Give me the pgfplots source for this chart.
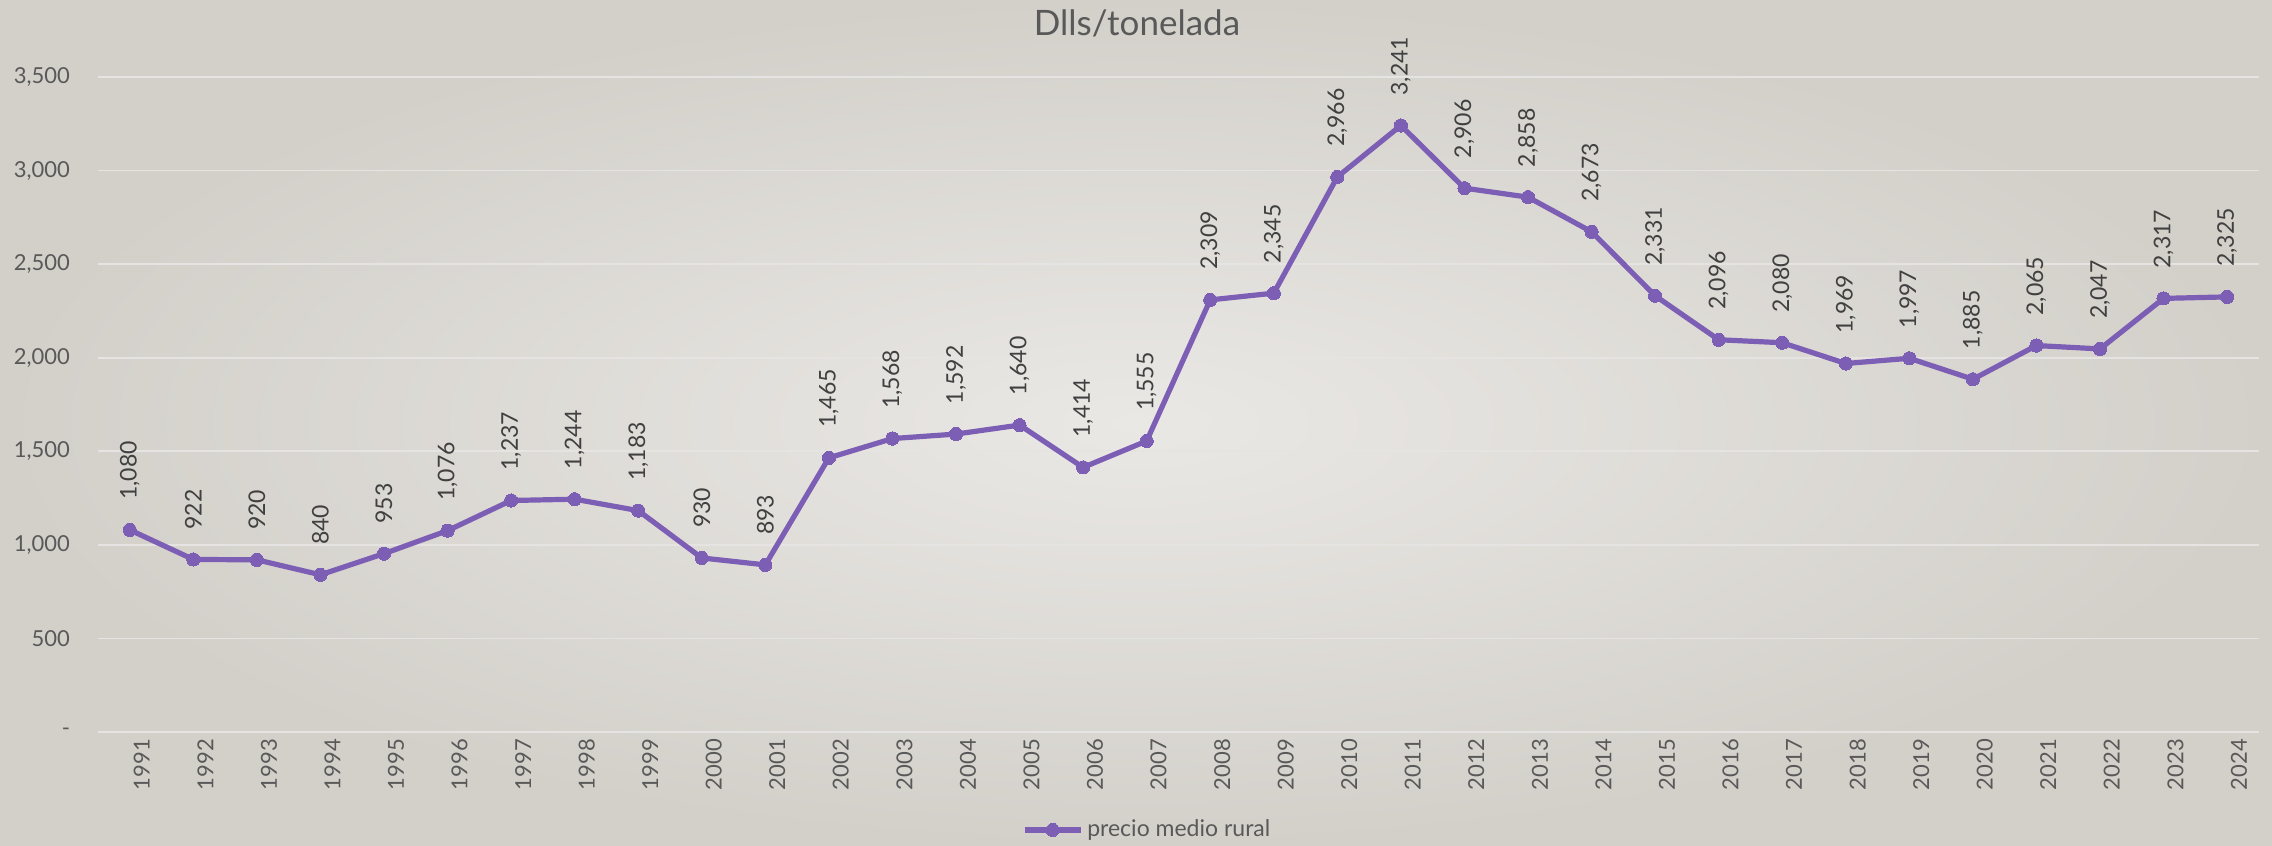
\documentclass[border=0pt]{standalone}
\usepackage{fontspec}
\setmainfont{Lato}
\usepackage{pgfplots}
\pgfplotsset{compat=1.18}
\definecolor{linepurple}{HTML}{7C5FB5}
\definecolor{txt}{HTML}{595959}
\definecolor{lbl}{HTML}{404040}
\definecolor{gridc}{HTML}{E6E4E2}
\definecolor{bgin}{HTML}{EAE8E5}
\definecolor{bgout}{HTML}{D3D0CA}
\begin{document}
\begin{tikzpicture}
\shade[inner color=bgin, outer color=bgout] (-49pt,-57pt) rectangle (1087pt,366pt);
\path[use as bounding box] (-49pt,-57pt) rectangle (1087pt,366pt);
\begin{axis}[
  scale only axis, width=1080.5pt, height=327.5pt,
  xmin=1990.5, xmax=2024.5, ymin=0, ymax=3500,
  xtick={1991,...,2024}, ytick={0,500,...,3500},
  yticklabels={-,500,{1,000},{1,500},{2,000},{2,500},{3,000},{3,500}},
  ymajorgrids, grid style={gridc, line width=0.9pt},
  axis line style={draw=none}, major tick style={draw=none},
  clip=false,
  /pgf/number format/assume math mode=true,
  tick label style={font=\fontsize{11}{13}\selectfont, text=txt},
  xticklabel style={rotate=90, anchor=east, yshift=-6pt, /pgf/number format/1000 sep={}},
  yticklabel style={anchor=east, xshift=-10.5pt},
  legend style={at={(0.486,-0.1496)}, anchor=center, draw=none, fill=none, font=\fontsize{11.5}{13}\selectfont, text=txt},
  legend image code/.code={\draw[mark repeat=2,mark phase=2,#1] plot coordinates {(0pt,0pt)(14pt,0pt)(28pt,0pt)};},
  point meta=y,
  nodes near coords={\pgfmathprintnumber[1000 sep={,}]{\pgfplotspointmeta}},
  every node near coord/.append style={font=\fontsize{11.5}{13}\selectfont, text=lbl, rotate=90, anchor=west, inner xsep=15pt, inner ysep=0pt},
]
\addplot[color=linepurple, line width=2.6pt, mark=*, mark size=3.3pt, mark options={solid, fill=linepurple, draw=linepurple, line width=0pt}] coordinates {
(1991,1080) (1992,922) (1993,920) (1994,840) (1995,953) (1996,1076) (1997,1237) (1998,1244) (1999,1183) (2000,930)
(2001,893) (2002,1465) (2003,1568) (2004,1592) (2005,1640) (2006,1414) (2007,1555) (2008,2309) (2009,2345) (2010,2966)
(2011,3241) (2012,2906) (2013,2858) (2014,2673) (2015,2331) (2016,2096) (2017,2080) (2018,1969) (2019,1997) (2020,1885)
(2021,2065) (2022,2047) (2023,2317) (2024,2325)
};
\addlegendentry{precio medio rural}
\node[anchor=base, font=\fontsize{17.5}{20}\selectfont, text=txt, yshift=21pt] at (rel axis cs:0.4808,1) {Dlls/tonelada};
\end{axis}
\end{tikzpicture}
\end{document}
